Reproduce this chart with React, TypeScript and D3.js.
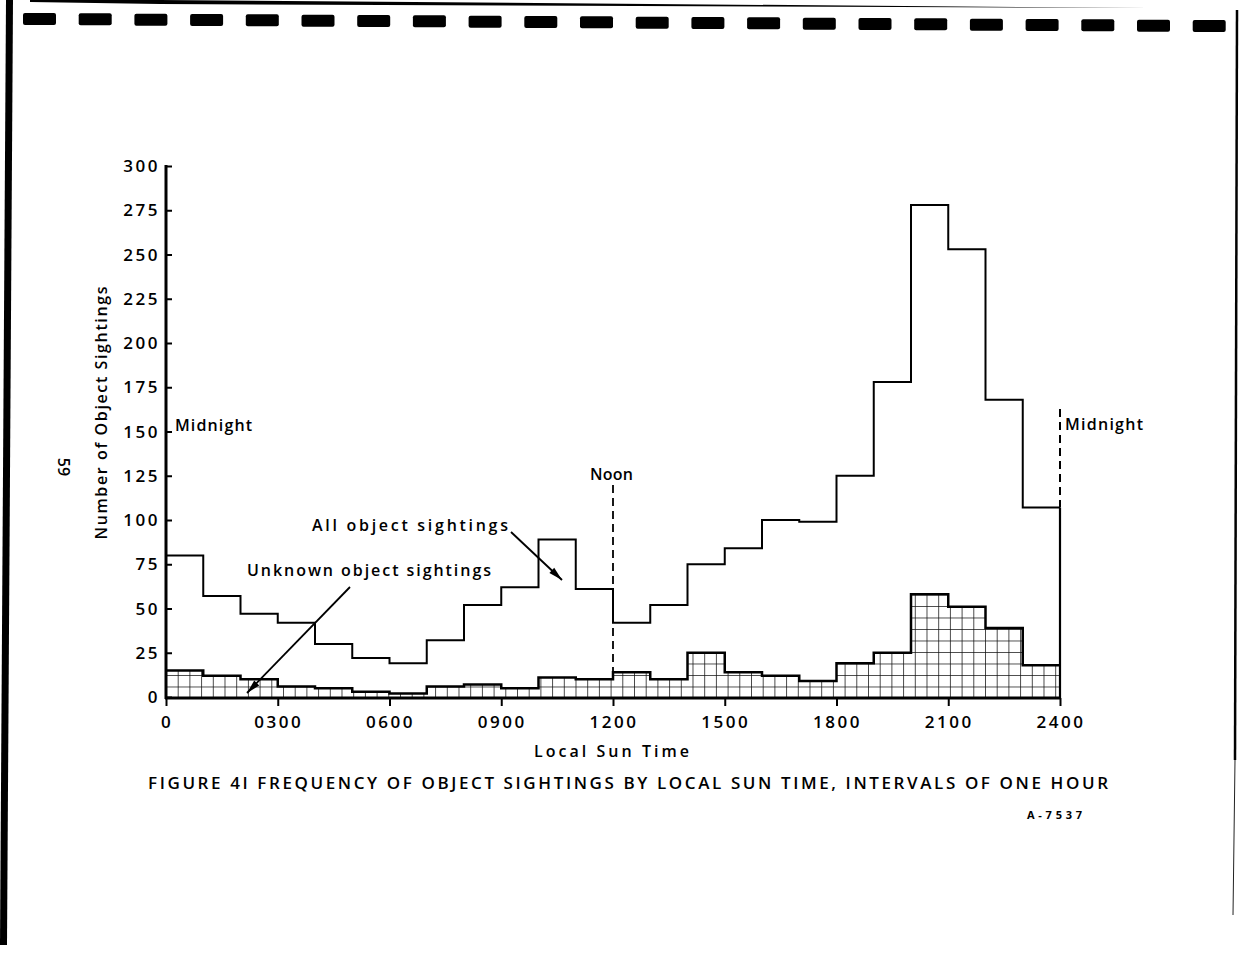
import { useEffect, useRef } from "react";
import * as d3 from "d3";

// hourly intervals
const hourStarts = [0, 1, 2, 3, 4, 5, 6, 7, 8, 9, 10, 11, 12, 13, 14, 15, 16, 17, 18, 19, 20, 21, 22, 23];
const allSightings = [80, 57, 47, 42, 30, 22, 19, 32, 52, 62, 89, 61, 42, 52, 75, 84, 100, 99, 125, 178, 278, 253, 168, 107];
const unknownSightings = [15, 12, 10, 6, 5, 3, 2, 6, 7, 5, 11, 10, 14, 10, 25, 14, 12, 9, 19, 25, 58, 51, 39, 18];

const xTickValues = [0, 3, 6, 9, 12, 15, 18, 21, 24];
const xTickLabels = ["0", "0300", "0600", "0900", "1200", "1500", "1800", "2100", "2400"];
const yTickValues = [0, 25, 50, 75, 100, 125, 150, 175, 200, 225, 250, 275, 300];
const yTickLabels = ["0", "25", "50", "75", "100", "125", "150", "175", "200", "225", "250", "275", "300"];

const FONT = "'Open Sans', 'DejaVu Sans', sans-serif";

export default function App() {
  const svgRef = useRef<SVGSVGElement>(null);

  useEffect(() => {
    if (!svgRef.current) return;
    const svg = d3.select(svgRef.current);
    svg.selectAll("*").remove();

    const x = d3.scaleLinear().domain([0, 24]).range([166, 1060]);
    const y = d3.scaleLinear().domain([0, 300]).range([697, 166]);
    const base = 698;

    // scan artefacts: page edges and punched border
    svg.append("polygon")
      .attr("points", "6,0 13,0 7,945 0,945")
      .attr("fill", "#000");
    svg.append("polygon")
      .attr("points", "30,0 160,0 1150,8 900,7 160,4 30,2")
      .attr("fill", "#000");
    svg.append("line")
      .attr("x1", 1237).attr("y1", 10).attr("x2", 1235).attr("y2", 760)
      .attr("stroke", "#000").attr("stroke-width", 2.5);
    svg.append("line")
      .attr("x1", 1235).attr("y1", 760).attr("x2", 1233).attr("y2", 915)
      .attr("stroke", "#222").attr("stroke-width", 1);
    for (let i = 0; i < 22; i++) {
      const cx = 23 + i * 55.7;
      const cy = 13 + (i / 21) * 7;
      svg.append("rect")
        .attr("x", cx).attr("y", cy)
        .attr("width", 33).attr("height", 12)
        .attr("rx", 2)
        .attr("fill", "#000");
    }

    // grid hatch for the unknown sightings
    const defs = svg.append("defs");
    const pat = defs.append("pattern")
      .attr("id", "grid")
      .attr("patternUnits", "userSpaceOnUse")
      .attr("x", 166).attr("y", base)
      .attr("width", 11.7).attr("height", 11.5);
    pat.append("rect").attr("width", 11.7).attr("height", 11.5).attr("fill", "#fff");
    pat.append("path")
      .attr("d", "M0,0 H11.7 M0,0 V11.5")
      .attr("stroke", "#111").attr("stroke-width", 1.5);

    const stepData = (vals: number[]) =>
      hourStarts.map((h, i) => ({ h, v: vals[i] })).concat([{ h: 24, v: vals[vals.length - 1] }]);

    const unk = stepData(unknownSightings);
    const area = d3.area<{ h: number; v: number }>()
      .x((d) => x(d.h))
      .y0(base)
      .y1((d) => y(d.v))
      .curve(d3.curveStepAfter);
    svg.append("path")
      .attr("d", area(unk) as string)
      .attr("fill", "url(#grid)");
    const stepLine = d3.line<{ h: number; v: number }>()
      .x((d) => x(d.h))
      .y((d) => y(d.v))
      .curve(d3.curveStepAfter);
    svg.append("path")
      .attr("d", stepLine(unk) as string)
      .attr("fill", "none").attr("stroke", "#000").attr("stroke-width", 2.5);

    const all = stepData(allSightings);
    svg.append("path")
      .attr("d", stepLine(all) as string)
      .attr("fill", "none").attr("stroke", "#000").attr("stroke-width", 2);

    // closing vertical at 2400
    svg.append("line")
      .attr("x1", x(24)).attr("x2", x(24))
      .attr("y1", y(allSightings[23])).attr("y2", base)
      .attr("stroke", "#000").attr("stroke-width", 2.2);

    // dashed marker lines
    svg.append("line")
      .attr("x1", x(12)).attr("x2", x(12))
      .attr("y1", 485).attr("y2", y(unknownSightings[12]))
      .attr("stroke", "#000").attr("stroke-width", 1.8)
      .attr("stroke-dasharray", "8,5");
    svg.append("line")
      .attr("x1", x(24)).attr("x2", x(24))
      .attr("y1", 409).attr("y2", y(allSightings[23]))
      .attr("stroke", "#000").attr("stroke-width", 2)
      .attr("stroke-dasharray", "8,5");

    // axes
    const yAxis = d3.axisRight(y)
      .tickValues(yTickValues)
      .tickSize(6)
      .tickFormat(() => "");
    const gy = svg.append("g").attr("transform", `translate(${x(0)},0)`).call(yAxis);
    gy.select(".domain").remove();
    gy.selectAll(".tick line").attr("stroke", "#000").attr("stroke-width", 2);
    svg.append("line")
      .attr("x1", x(0)).attr("x2", x(0)).attr("y1", y(300) - 1).attr("y2", base + 1)
      .attr("stroke", "#000").attr("stroke-width", 3);

    const xAxis = d3.axisBottom(x)
      .tickValues(xTickValues)
      .tickSize(8)
      .tickFormat(() => "");
    const gx = svg.append("g").attr("transform", `translate(0,${base})`).call(xAxis);
    gx.select(".domain").remove();
    gx.selectAll(".tick line").attr("stroke", "#000").attr("stroke-width", 2);
    svg.append("line")
      .attr("x1", x(0) - 1).attr("x2", x(24) + 1).attr("y1", base).attr("y2", base)
      .attr("stroke", "#000").attr("stroke-width", 3);

    svg.append("g")
      .selectAll("text")
      .data(yTickValues)
      .join("text")
      .attr("x", 160)
      .attr("y", (d) => y(d) + 6)
      .attr("text-anchor", "end")
      .attr("font-family", FONT)
      .attr("font-weight", 600)
      .attr("font-size", 17)
      .attr("letter-spacing", 2.5)
      .text((_d, i) => yTickLabels[i]);

    svg.append("g")
      .selectAll("text")
      .data(xTickValues)
      .join("text")
      .attr("x", (d) => x(d) + 1)
      .attr("y", 728)
      .attr("text-anchor", "middle")
      .attr("font-family", FONT)
      .attr("font-weight", 600)
      .attr("font-size", 17)
      .attr("letter-spacing", 2.5)
      .text((_d, i) => xTickLabels[i]);

    const label = (txt: string, tx: number, ty: number, size: number, len?: number, anchor = "start") => {
      const t = svg.append("text")
        .attr("x", tx).attr("y", ty)
        .attr("text-anchor", anchor)
        .attr("font-family", FONT)
        .attr("font-weight", 600)
        .attr("font-size", size)
        .attr("fill", "#000")
        .text(txt);
      if (len) t.attr("textLength", len).attr("lengthAdjust", "spacing");
      return t;
    };

    label("Midnight", 175, 431, 16, 77);
    label("Midnight", 1065, 430, 16, 78);
    label("Noon", 590, 480, 16, 43);
    label("All object sightings", 312, 531, 16, 196);
    label("Unknown object sightings", 247, 576, 16, 244);
    label("Local Sun Time", 534, 757, 16, 155);
    label("FIGURE 4I  FREQUENCY OF OBJECT SIGHTINGS BY LOCAL  SUN TIME, INTERVALS OF ONE HOUR", 148, 789, 17, 960);
    label("A-7537", 1027, 819, 11, 55).attr("font-weight", 700);

    svg.append("text")
      .attr("transform", "translate(107,413) rotate(-90)")
      .attr("text-anchor", "middle")
      .attr("font-family", FONT)
      .attr("font-weight", 600)
      .attr("font-size", 16)
      .attr("textLength", 253)
      .attr("lengthAdjust", "spacing")
      .text("Number of Object Sightings");

    svg.append("text")
      .attr("transform", "translate(58,467) rotate(90)")
      .attr("text-anchor", "middle")
      .attr("font-family", FONT)
      .attr("font-weight", 600)
      .attr("font-size", 16)
      .text("59");

    // arrows
    const arrow = (x1: number, y1: number, x2: number, y2: number) => {
      svg.append("line")
        .attr("x1", x1).attr("y1", y1).attr("x2", x2).attr("y2", y2)
        .attr("stroke", "#000").attr("stroke-width", 1.8);
      const ang = Math.atan2(y2 - y1, x2 - x1);
      const len = 14;
      const w = 3.5;
      const bx = x2 - len * Math.cos(ang);
      const by = y2 - len * Math.sin(ang);
      const px = -Math.sin(ang) * w;
      const py = Math.cos(ang) * w;
      svg.append("polygon")
        .attr("points", `${x2},${y2} ${bx + px},${by + py} ${bx - px},${by - py}`)
        .attr("fill", "#000");
    };
    arrow(511, 532, 562, 580);
    arrow(350, 587, 247, 693);
  }, []);

  return (
    <svg
      ref={svgRef}
      width={1240}
      height={955}
      style={{ position: "absolute", left: 0, top: 0, background: "#fff" }}
    />
  );
}
